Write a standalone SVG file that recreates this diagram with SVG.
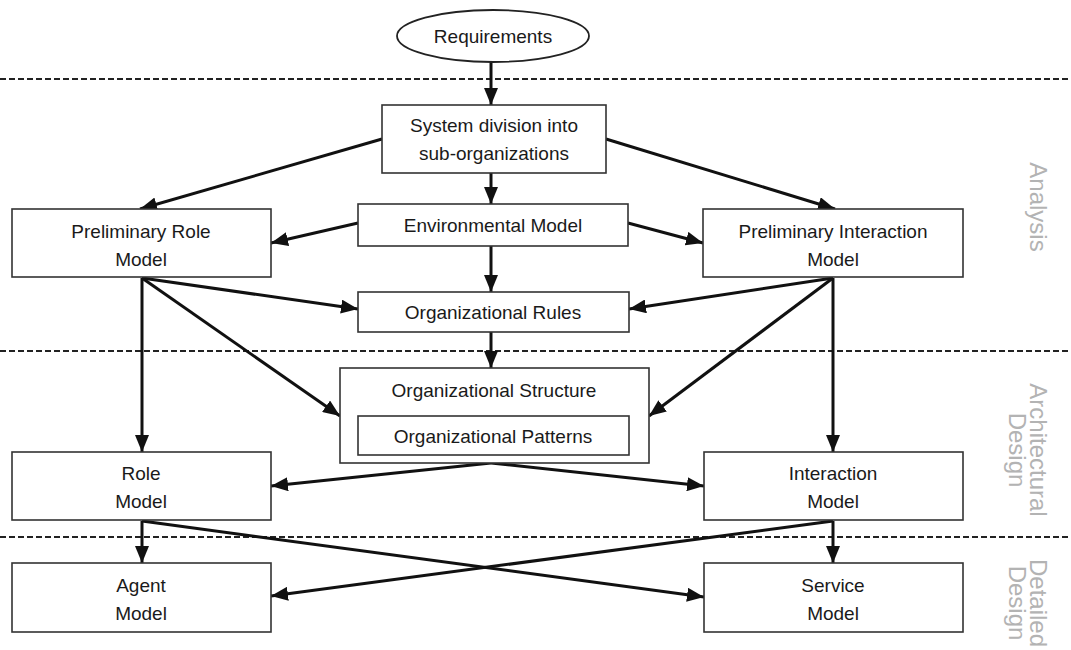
<svg xmlns="http://www.w3.org/2000/svg" width="1071" height="650" viewBox="0 0 1071 650">
<defs>
<marker id="ah" viewBox="0 0 17 14" refX="17" refY="7" markerWidth="17" markerHeight="14" orient="auto" markerUnits="userSpaceOnUse">
<path d="M0,0 L17,7 L0,14 z" fill="#111"/>
</marker>
<style>
.box{fill:#fff;stroke:#333;stroke-width:1.6}
.t{font-family:"Liberation Sans",Arial,sans-serif;font-size:19px;fill:#1a1a1a;text-anchor:middle}
.c{fill:none;stroke:#111;stroke-width:3;marker-end:url(#ah)}
.dash{stroke:#222;stroke-width:2;stroke-dasharray:6 3}
.side{font-family:"Liberation Sans",Arial,sans-serif;font-size:24px;fill:#b3b3b3;text-anchor:middle}
</style>
</defs>
<rect width="1071" height="650" fill="#fff"/>
<g id="phases">
<line class="dash" x1="0" y1="79" x2="1071" y2="79"/>
<line class="dash" x1="0" y1="351" x2="1071" y2="351"/>
<line class="dash" x1="0" y1="537" x2="1071" y2="537"/>
<text class="side" transform="translate(1030,207) rotate(90)">Analysis</text>
<text class="side" transform="translate(1030,450) rotate(90)">Architectural</text>
<text class="side" transform="translate(1009,450) rotate(90)">Design</text>
<text class="side" transform="translate(1030,603) rotate(90)">Detailed</text>
<text class="side" transform="translate(1009,603) rotate(90)">Design</text>
</g>
<g id="connectors">
<line class="c" x1="491" y1="62" x2="491" y2="105"/>
<line class="c" x1="382" y1="139" x2="140" y2="209"/>
<line class="c" x1="606" y1="139" x2="835" y2="209"/>
<line class="c" x1="491" y1="173" x2="491" y2="204"/>
<line class="c" x1="358" y1="223" x2="271" y2="243"/>
<line class="c" x1="628" y1="223" x2="703" y2="243"/>
<line class="c" x1="491" y1="246" x2="491" y2="292"/>
<line class="c" x1="142" y1="278" x2="358" y2="309"/>
<line class="c" x1="142" y1="278" x2="142" y2="452"/>
<line class="c" x1="142" y1="278" x2="340" y2="416"/>
<line class="c" x1="833" y1="278" x2="629" y2="309"/>
<line class="c" x1="833" y1="278" x2="833" y2="452"/>
<line class="c" x1="833" y1="278" x2="649" y2="416"/>
<line class="c" x1="491" y1="332" x2="491" y2="368"/>
<line class="c" x1="491" y1="463" x2="271" y2="486"/>
<line class="c" x1="491" y1="463" x2="704" y2="486"/>
<line class="c" x1="142" y1="521" x2="142" y2="563"/>
<line class="c" x1="142" y1="521" x2="704" y2="597"/>
<line class="c" x1="833" y1="521" x2="833" y2="563"/>
<line class="c" x1="833" y1="521" x2="271" y2="596"/>
</g>
<g id="requirements">
<ellipse cx="493" cy="36" rx="96" ry="26" fill="#fff" stroke="#222" stroke-width="1.8"/>
<text class="t" x="493" y="43">Requirements</text>
</g>
<g id="system-division">
<rect class="box" x="382" y="105" width="224" height="68"/>
<text class="t" x="494" y="132">System division into</text>
<text class="t" x="494" y="160">sub-organizations</text>
</g>
<g id="environmental-model">
<rect class="box" x="358" y="204" width="270" height="42"/>
<text class="t" x="493" y="232">Environmental Model</text>
</g>
<g id="preliminary-role-model">
<rect class="box" x="12" y="209" width="259" height="68"/>
<text class="t" x="141" y="238">Preliminary Role</text>
<text class="t" x="141" y="266">Model</text>
</g>
<g id="preliminary-interaction-model">
<rect class="box" x="703" y="209" width="260" height="68"/>
<text class="t" x="833" y="238">Preliminary Interaction</text>
<text class="t" x="833" y="266">Model</text>
</g>
<g id="organizational-rules">
<rect class="box" x="358" y="292" width="271" height="40"/>
<text class="t" x="493" y="319">Organizational Rules</text>
</g>
<g id="organizational-structure">
<rect class="box" x="340" y="368" width="309" height="95"/>
<text class="t" x="494" y="397">Organizational Structure</text>
<g id="organizational-patterns">
<rect class="box" x="358" y="416" width="271" height="39"/>
<text class="t" x="493" y="443">Organizational Patterns</text>
</g>
</g>
<g id="role-model">
<rect class="box" x="12" y="452" width="259" height="68"/>
<text class="t" x="141" y="480">Role</text>
<text class="t" x="141" y="508">Model</text>
</g>
<g id="interaction-model">
<rect class="box" x="704" y="452" width="259" height="68"/>
<text class="t" x="833" y="480">Interaction</text>
<text class="t" x="833" y="508">Model</text>
</g>
<g id="agent-model">
<rect class="box" x="12" y="563" width="259" height="69"/>
<text class="t" x="141" y="592">Agent</text>
<text class="t" x="141" y="620">Model</text>
</g>
<g id="service-model">
<rect class="box" x="704" y="563" width="259" height="69"/>
<text class="t" x="833" y="592">Service</text>
<text class="t" x="833" y="620">Model</text>
</g>
</svg>
